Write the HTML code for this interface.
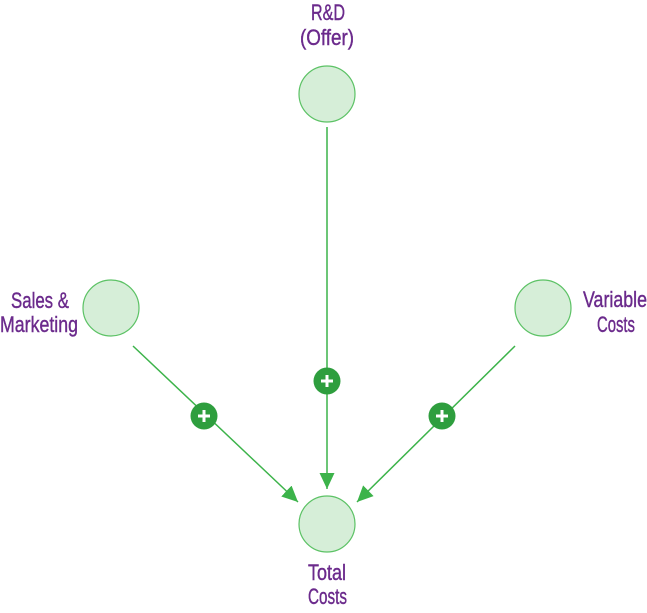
<!DOCTYPE html>
<html><head><style>
html,body{margin:0;padding:0;background:#fff;width:647px;height:613px;overflow:hidden}
svg{display:block}
text{font-family:"Liberation Sans",sans-serif;font-size:22px;fill:#6b2a8c;stroke:#6b2a8c;stroke-width:0.4}
</style></head><body>
<svg width="647" height="613" viewBox="0 0 647 613" xmlns="http://www.w3.org/2000/svg">
<defs>
<marker id="ah" markerWidth="18" markerHeight="16" refX="16" refY="7.5" orient="auto" markerUnits="userSpaceOnUse">
<path d="M0,0 L16,7.5 L0,15 z" fill="#3cb34a"/>
</marker>
</defs>
<g stroke="#3cb34a" stroke-width="1.5" fill="none">
<line x1="327" y1="127" x2="327" y2="489" marker-end="url(#ah)"/>
<line x1="133" y1="346" x2="298" y2="502" marker-end="url(#ah)"/>
<line x1="515" y1="346" x2="357" y2="502" marker-end="url(#ah)"/>
</g>
<g fill="#d6eed8" stroke="#5cc265" stroke-width="1.2">
<circle cx="327" cy="94" r="28"/>
<circle cx="111" cy="308" r="28"/>
<circle cx="543" cy="308" r="28"/>
<circle cx="327" cy="524" r="28"/>
</g>
<g>
<circle cx="327" cy="381" r="13.5" fill="#2e9e3e"/>
<circle cx="204" cy="416" r="13.5" fill="#2e9e3e"/>
<circle cx="442" cy="416" r="13.5" fill="#2e9e3e"/>
<g stroke="#fff" stroke-width="3">
<line x1="321" y1="381" x2="333" y2="381"/><line x1="327" y1="375" x2="327" y2="387"/>
<line x1="198" y1="416" x2="210" y2="416"/><line x1="204" y1="410" x2="204" y2="422"/>
<line x1="436" y1="416" x2="448" y2="416"/><line x1="442" y1="410" x2="442" y2="422"/>
</g>
</g>
<text x="311" y="20" textLength="34" lengthAdjust="spacingAndGlyphs">R&amp;D</text>
<text x="300" y="45" textLength="54" lengthAdjust="spacingAndGlyphs">(Offer)</text>
<text x="11" y="308" textLength="58" lengthAdjust="spacingAndGlyphs">Sales &amp;</text>
<text x="0" y="332" textLength="78" lengthAdjust="spacingAndGlyphs">Marketing</text>
<text x="583" y="307" textLength="64" lengthAdjust="spacingAndGlyphs">Variable</text>
<text x="597" y="332" textLength="38" lengthAdjust="spacingAndGlyphs">Costs</text>
<text x="308" y="580" textLength="38" lengthAdjust="spacingAndGlyphs">Total</text>
<text x="308" y="604" textLength="39" lengthAdjust="spacingAndGlyphs">Costs</text>
</svg>
</body></html>
